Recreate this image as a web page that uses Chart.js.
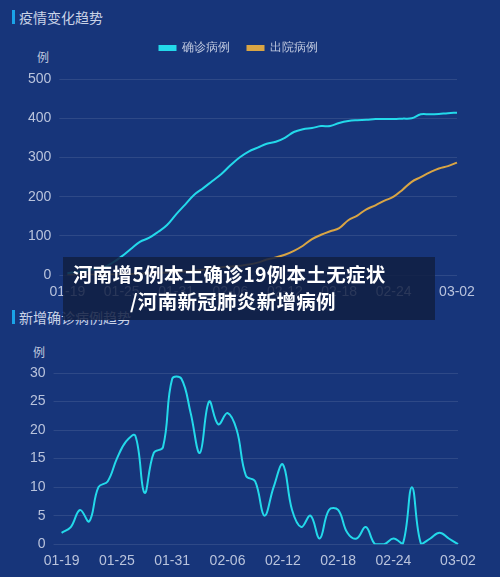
<!DOCTYPE html><html><head><meta charset="utf-8">
<script src="https://cdn.jsdelivr.net/npm/chart.js@4"></script>
<style>
body{margin:0;width:500px;height:577px;background:#17357a;overflow:hidden;font-family:"Noto Sans CJK SC",sans-serif;position:relative}
.t{position:absolute;left:12px;color:#c9d2e6;font-size:14px;border-left:3px solid #1aa3e8;padding-left:4px;line-height:14px}
.u{position:absolute;color:#c0c9df;font-size:12px}
canvas{position:absolute}
#ov{position:absolute;left:63px;top:257px;width:372px;height:63px;background:rgba(16,30,66,0.85);color:#fff;font-weight:bold;font-size:19.5px;line-height:27px;letter-spacing:0.3px}
</style></head><body>
<div class="t" style="top:10px">疫情变化趋势</div>
<div class="u" style="left:37px;top:48px">例</div>
<div class="t" style="top:310px">新增确诊病例趋势</div>
<div class="u" style="left:33px;top:343px">例</div>
<div style="position:absolute;left:0;top:0;width:500px;height:302px"><canvas id="c1"></canvas></div>
<div style="position:absolute;left:0;top:289px;width:500px;height:287px"><canvas id="c2"></canvas></div>
<div id="ov"><div style="padding-left:10px;margin-top:3px">河南增5例本土确诊19例本土无症状</div><div style="padding-left:67px">/河南新冠肺炎新增病例</div></div>
<script>
const dates=[];
(function(){const d=new Date(2020,0,19);for(let i=0;i<44;i++){dates.push(String(d.getMonth()+1).padStart(2,'0')+'-'+String(d.getDate()).padStart(2,'0'));d.setDate(d.getDate()+1);}})();
const confirmed=[5,8,12,15,20,32,48,67,85,95,110,128,155,180,205,222,240,258,280,300,315,325,335,340,350,365,372,375,380,380,388,393,395,396,398,398,398,399,400,410,410,411,413,414];
const discharged=[0,0,1,1,2,2,3,3,4,5,6,7,8,10,12,14,17,20,22,24,27,32,40,45,52,62,75,92,103,112,120,140,152,168,178,190,200,218,238,250,262,272,278,287];
const daily=[2,3,6,4,10,11,15,18,19,9,16,17,29,29,23,16,25,21,23,20,12,11,5,10,14,6,3,5,1,6,6,2,1,3,0,0,1,0,10,0,1,2,1,0];
const tickC='#b9c3dc';
function xs(){return{grid:{display:false},border:{display:false},ticks:{color:tickC,font:{size:14},padding:1,maxRotation:0,autoSkip:false,callback:(v,i)=>(i%6===0&&i<40)||i===43?dates[i]:''}}}
function ys(max,step){return{min:0,max:max,grid:{color:'rgba(255,255,255,0.1)'},border:{display:false},ticks:{stepSize:step,color:tickC,font:{size:14},padding:8}}}
const tallLegend={id:'tallLegend',beforeInit(chart){const f=chart.legend.fit;chart.legend.fit=function(){f.call(this);this.height+=15;};}};
new Chart(c1,{type:'line',plugins:[tallLegend],data:{labels:dates,datasets:[
{label:'确诊病例',data:confirmed,borderColor:'#23d9ea',backgroundColor:'#23d9ea',borderWidth:2,pointRadius:0,tension:0.4},
{label:'出院病例',data:discharged,borderColor:'#d9a544',backgroundColor:'#d9a544',borderWidth:2,pointRadius:0,tension:0.4}]},
options:{responsive:true,maintainAspectRatio:false,animation:false,layout:{padding:{left:20,right:43,top:24,bottom:0}},
plugins:{legend:{labels:{color:'#c0c9df',font:{size:12},boxWidth:16,boxHeight:4,padding:18}},tooltip:{enabled:false}},scales:{x:xs(),y:ys(500,100)}}});
new Chart(c2,{type:'line',data:{labels:dates,datasets:[
{label:'新增',data:daily,borderColor:'#23d9ea',borderWidth:2,pointRadius:0,tension:0.4}]},
options:{responsive:true,maintainAspectRatio:false,animation:false,layout:{padding:{left:22,right:42,top:84,bottom:5}},
plugins:{legend:{display:false},tooltip:{enabled:false}},scales:{x:xs(),y:ys(30,5)}}});
</script></body></html>
